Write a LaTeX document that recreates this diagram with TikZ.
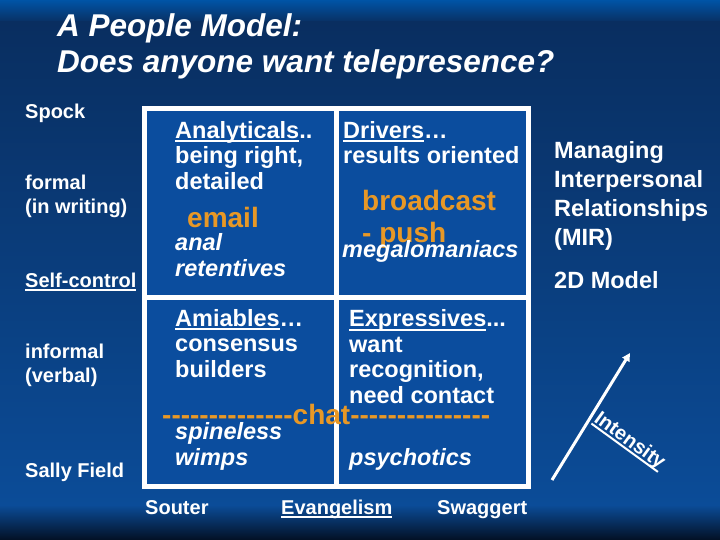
\documentclass[tikz,border=0pt]{standalone}
\usepackage{fontspec}
\setmainfont{Liberation Sans}
\usetikzlibrary{arrows.meta}
\definecolor{slidetop}{RGB}{0,84,166}
\definecolor{navy}{RGB}{9,46,96}
\definecolor{slideblue}{RGB}{11,76,152}
\definecolor{slidefoot}{RGB}{3,16,36}
\definecolor{cellblue}{RGB}{11,77,158}
\definecolor{gold}{RGB}{232,152,38}
\newcommand{\uln}[1]{\setbox0\hbox{#1}\rlap{\vrule width\wd0 height -2pt depth 4pt}\box0}
\newcommand{\dashrun}[1]{\foreach \i in {1,...,#1}{-}}

\begin{document}
\begin{tikzpicture}[x=1pt, y=-1pt,
  lbl/.style={text=white, anchor=base west, inner sep=0pt, align=left,
              font=\bfseries\fontsize{20}{24}\selectfont},
  cl/.style={lbl, font=\bfseries\fontsize{23.5}{25.5}\selectfont},
  bad/.style={lbl, font=\bfseries\itshape\fontsize{23.5}{25.5}\selectfont},
  hot/.style={lbl, text=gold, font=\bfseries\fontsize{28}{32}\selectfont},
  side/.style={lbl, font=\bfseries\fontsize{23.5}{29}\selectfont},
  cell/.style={fill=cellblue, minimum width=187pt, minimum height=184pt,
               inner sep=0pt, anchor=north west}
]
\useasboundingbox (0,0) rectangle (720,540);
% background
\fill[top color=slidetop, bottom color=navy] (0,0) rectangle (720,23);
\fill[top color=navy, bottom color=slideblue] (0,22) rectangle (720,506);
\fill[top color=slideblue, bottom color=slidefoot] (0,505) rectangle (720,540);

\node[lbl, font=\bfseries\itshape\fontsize{31.5}{36}\selectfont] (title) at (57,73)
  {A People Model:\\Does anyone want telepresence?};

% the grid
\fill[white] (142,106) rectangle (531,489);
\node[cell] (anal) at (147,111) {};
\node[cell] (driv) at (339,111) {};
\node[cell] (amia) at (147,300) {};
\node[cell] (expr) at (339,300) {};

% left side
\node[lbl] (spock) at (25,119) {Spock};
\node[lbl] (formal) at (25,214) {formal\\(in writing)};
\node[lbl] (selfc) at (25,287) {\uln{Self-control}};
\node[lbl] (informal) at (25,382) {informal\\(verbal)};
\node[lbl] (sally) at (25,477) {Sally Field};

% cells
\node[cl] (analtxt) at (175,189.5) {\uln{Analyticals}..\\being right,\\detailed};
\node[hot] (email) at (187,227) {email};
\node[bad] (analbad) at (175,276) {anal\\retentives};

\node[cl] (drivtxt) at (343,164) {\uln{Drivers}\dots\\results oriented};
\node[hot] (bcast) at (362,242) {broadcast\\- push};
\node[bad] (drivbad) at (342,257) {megalomaniacs};

\node[cl] (amiatxt) at (175,377) {\uln{Amiables}\dots\\consensus\\builders};
\node[bad] (amiabad) at (175,465) {spineless\\wimps};

\node[cl] (exprtxt) at (349,403) {\uln{Expressives}...\\want\\recognition,\\need contact};
\node[bad] (exprbad) at (349,465) {psychotics};

\node[hot] (chat) at (162,424) {\dashrun{14}chat\dashrun{15}};

% bottom axis
\node[lbl] (souter) at (145,514) {Souter};
\node[lbl] (evang) at (281,514) {\uln{Evangelism}};
\node[lbl] (swag) at (437,514) {Swaggert};

% right side
\node[side] (mir) at (554,245) {Managing\\Interpersonal\\Relationships\\(MIR)};
\node[side] (twod) at (554,288) {2D Model};

\coordinate (lo) at (552,480);
\coordinate (hi) at (630,353);
\draw[white, line width=3pt, -{Triangle[length=8pt, width=8pt]}] (lo) -- (hi);
\node[lbl, rotate=-36] (intens) at (593,421) {\uln{Intensity}};
\end{tikzpicture}
\end{document}
